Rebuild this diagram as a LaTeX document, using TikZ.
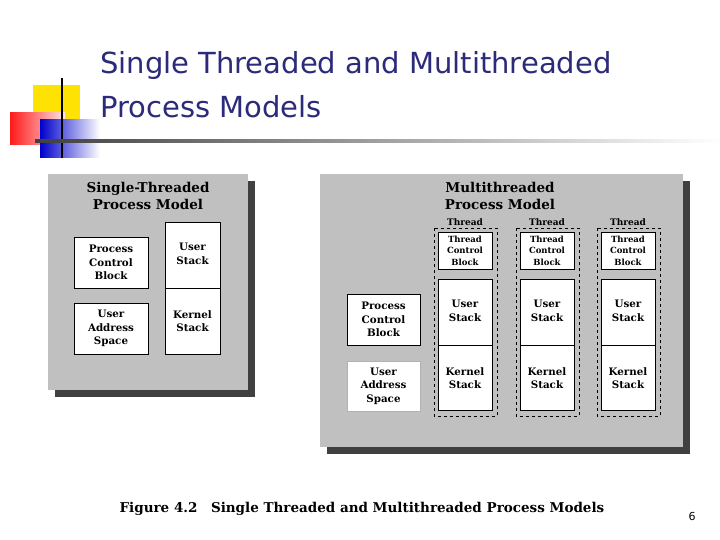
\documentclass[tikz,border=0pt]{standalone}
\usepackage{fontspec}
\setmainfont{DejaVu Serif}
\newfontfamily\titlefont{DejaVu Sans}
\definecolor{navy}{HTML}{2B2B7A}
\definecolor{panel}{HTML}{C0C0C0}
\definecolor{shad}{HTML}{404040}
\begin{document}
\begin{tikzpicture}[x=1pt,y=-1pt,
  box/.style={draw=black,fill=white,line width=0.8pt},
  txt/.style={align=center,font=\bfseries\fontsize{10.3}{13.5}\selectfont},
  ttl/.style={align=center,font=\bfseries\fontsize{13.5}{17}\selectfont},
  thr/.style={font=\bfseries\fontsize{9}{9}\selectfont}]
\useasboundingbox (0,0) rectangle (720,540);
\fill[white] (0,0) rectangle (720,540);
% logo
\fill[yellow!85!orange] (33,85) rectangle (80,127);
\shade[left color=red!90, right color=red!10] (10,113) rectangle (65,145);
\shade[left color=blue!80!black, right color=white] (40,120) rectangle (100,158);
\draw[line width=1.5pt] (62,78) -- (62,158);
\shade[left color=black!75, right color=white] (35,140) rectangle (720,142.5);
\node[anchor=west,text=navy,font=\titlefont\fontsize{29}{30}\selectfont,inner sep=0pt] (t1) at (100,66) {Single Threaded and Multithreaded};
\node[anchor=west,text=navy,font=\titlefont\fontsize{29}{30}\selectfont,inner sep=0pt] (t2) at (100,107) {Process Models};
% left panel
\fill[shad] (55,181) rectangle (255,397);
\fill[panel] (48,174) rectangle (248,390);
\node[ttl] (lt) at (148,196) {Single-Threaded\\Process Model};
\node[box,minimum width=74pt,minimum height=51pt] (pcb1) at (111,262.5) {};
\node[txt] at (pcb1) {Process\\Control\\Block};
\node[box,minimum width=74pt,minimum height=51pt] (uas1) at (111,328.5) {};
\node[txt] at (uas1) {User\\Address\\Space};
\node[box,minimum width=55pt,minimum height=66pt] (us1) at (192.5,255) {};
\node[txt] at (192.5,254) {User\\Stack};
\node[box,minimum width=55pt,minimum height=66pt] (ks1) at (192.5,321) {};
\node[txt] at (192.5,321) {Kernel\\Stack};
% right panel
\fill[shad] (327,181) rectangle (690,454);
\fill[panel] (320,174) rectangle (683,447);
\node[ttl] (rt) at (500,196) {Multithreaded\\Process Model};
\node[box,minimum width=73pt,minimum height=51pt] (pcb2) at (383.5,319.5) {};
\node[txt] at (pcb2) {Process\\Control\\Block};
\node[box,draw=black!30,minimum width=73pt,minimum height=50pt] (uas2) at (383.5,386) {};
\node[txt] at (uas2) {User\\Address\\Space};
\foreach \i/\cx in {a/465,b/547,c/628}{
  \node[thr] (th\i) at (\cx,222) {Thread};
  \draw[dashed,line width=0.7pt] (\cx-31,228) rectangle (\cx+32,416);
  \node[box,minimum width=54pt,minimum height=37pt] (tcb\i) at (\cx,250.5) {};
  \node[align=center,font=\bfseries\fontsize{8.5}{11.5}\selectfont] at (tcb\i) {Thread\\Control\\Block};
  \node[box,minimum width=54pt,minimum height=66pt] (us\i) at (\cx,312) {};
  \node[txt] at (\cx,311) {User\\Stack};
  \node[box,minimum width=54pt,minimum height=65pt] (ks\i) at (\cx,377.5) {};
  \node[txt] at (\cx,378) {Kernel\\Stack};
}
\node[font=\bfseries\fontsize{13.5}{14}\selectfont] (cap) at (362,509) {Figure 4.2\quad Single Threaded and Multithreaded Process Models};
\node[font=\titlefont\fontsize{11}{12}\selectfont] (pg) at (692,516) {6};
\end{tikzpicture}
\end{document}
